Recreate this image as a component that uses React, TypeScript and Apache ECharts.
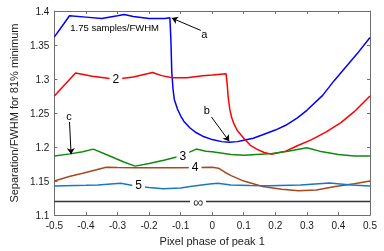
import React, { useEffect, useRef } from "react";
import * as echarts from "echarts";

const xTicks = [-0.5, 0.5];
const yRange = [1.1, 1.4];

const blueX = [-0.5, -0.475, -0.452, -0.4, -0.35, -0.3, -0.279, -0.25, -0.2, -0.15, -0.134, -0.131, -0.128, -0.124, -0.12, -0.11, -0.1, -0.09, -0.07, -0.05, -0.03, 0, 0.03, 0.054, 0.08, 0.1, 0.13, 0.16, 0.2, 0.233, 0.27, 0.3, 0.35, 0.387, 0.42, 0.459, 0.5];
const blueY = [1.362, 1.378, 1.393, 1.391, 1.389, 1.393, 1.395, 1.392, 1.389, 1.389, 1.39, 1.36, 1.31, 1.285, 1.27, 1.256, 1.246, 1.238, 1.228, 1.221, 1.216, 1.211, 1.208, 1.207, 1.208, 1.21, 1.213, 1.218, 1.225, 1.232, 1.243, 1.254, 1.276, 1.298, 1.316, 1.337, 1.361];

const redX = [-0.5, -0.433, -0.38, -0.33, -0.3, -0.25, -0.189, -0.16, -0.126, -0.08, -0.03, 0, 0.044, 0.047, 0.051, 0.056, 0.062, 0.069, 0.08, 0.1, 0.12, 0.141, 0.165, 0.187, 0.233, 0.27, 0.315, 0.36, 0.408, 0.45, 0.5];
const redY = [1.275, 1.309, 1.304, 1.301, 1.3, 1.303, 1.3096, 1.305, 1.302, 1.302, 1.305, 1.306, 1.3076, 1.295, 1.272, 1.255, 1.243, 1.234, 1.224, 1.213, 1.203, 1.197, 1.192, 1.1896, 1.194, 1.202, 1.211, 1.222, 1.236, 1.252, 1.275];

const greenX = [-0.5, -0.45, -0.41, -0.377, -0.33, -0.28, -0.244, -0.2, -0.15, -0.1, -0.07, -0.05, -0.02, 0, 0.06, 0.1, 0.18, 0.24, 0.3, 0.34, 0.4, 0.45, 0.5];
const greenY = [1.187, 1.19, 1.193, 1.197, 1.188, 1.178, 1.172, 1.176, 1.181, 1.187, 1.193, 1.197, 1.194, 1.193, 1.189, 1.188, 1.19, 1.194, 1.199, 1.194, 1.189, 1.187, 1.187];

const brownX = [-0.5, -0.45, -0.413, -0.336, -0.3, -0.244, -0.1, -0.05, 0, 0.02, 0.04, 0.06, 0.1, 0.16, 0.22, 0.274, 0.33, 0.39, 0.45, 0.5];
const brownY = [1.15, 1.157, 1.161, 1.1704, 1.1698, 1.1696, 1.1696, 1.17, 1.1704, 1.169, 1.163, 1.158, 1.15, 1.142, 1.138, 1.1357, 1.137, 1.142, 1.146, 1.15];

const tealX = [-0.5, -0.4, -0.362, -0.29, -0.233, -0.2, -0.156, -0.1, -0.07, -0.008, 0.018, 0.059, 0.12, 0.18, 0.28, 0.372, 0.44, 0.5];
const tealY = [1.1429, 1.1437, 1.1443, 1.1467, 1.142, 1.1404, 1.1386, 1.14, 1.142, 1.1457, 1.1467, 1.1443, 1.1435, 1.143, 1.1443, 1.1471, 1.1443, 1.1429];

const infX = [-0.5, 0.5];
const infY = [1.12, 1.12];

const curveLabels = ["1.75 samples/FWHM", "2", "3", "4", "5", "∞", "a", "b", "c"];
const curveLabelX = [-0.309, -0.305, -0.093, -0.054, -0.233, -0.045, -0.025, -0.017, -0.454];
const curveLabelY = [1.376, 1.3, 1.187, 1.17, 1.144, 1.1196, 1.366, 1.254, 1.2457];

const arrowFrom = [[-0.036, 1.3714], [-0.0025, 1.2443], [-0.452, 1.237]];
const arrowTo = [[-0.128, 1.3896], [0.054, 1.2086], [-0.447, 1.1896]];

const FONT = "'Liberation Sans', Arial, 'DejaVu Sans', sans-serif";

const zip = (xs: number[], ys: number[]) => xs.map((x, i) => [x, ys[i]]);

export default function App() {
  const ref = useRef<HTMLDivElement>(null);
  useEffect(() => {
    if (!ref.current) return;
    const chart = echarts.init(ref.current, null, { renderer: "svg" });
    const axisLineColor = "#6e6e6e";
    const baseX = {
      type: "value" as const,
      min: xTicks[0],
      max: xTicks[1],
      interval: 0.1,
      splitLine: { show: false },
      axisLine: { show: true, onZero: false, lineStyle: { color: axisLineColor, width: 1 } },
      axisTick: { show: true, inside: true, length: 3, lineStyle: { color: axisLineColor } },
    };
    const baseY = {
      type: "value" as const,
      min: yRange[0],
      max: yRange[1],
      interval: 0.05,
      splitLine: { show: false },
      axisLine: { show: true, onZero: false, lineStyle: { color: axisLineColor, width: 1 } },
      axisTick: { show: true, inside: true, length: 3, lineStyle: { color: axisLineColor } },
    };
    const line = (name: string, xs: number[], ys: number[], color: string) => ({
      type: "line" as const,
      name,
      data: zip(xs, ys),
      showSymbol: false,
      symbol: "none",
      lineStyle: { color, width: 1.5 },
      itemStyle: { color },
      z: 2,
    });
    chart.setOption({
      animation: false,
      grid: { left: 45, right: 14, top: 11, bottom: 30 },
      xAxis: [
        {
          ...baseX,
          position: "bottom",
          name: "Pixel phase of peak 1",
          nameLocation: "middle",
          nameGap: 16,
          nameTextStyle: { fontFamily: FONT, fontSize: 11, color: "#1a1a1a" },
          axisLabel: {
            fontFamily: FONT,
            fontSize: 10,
            color: "#1a1a1a",
            margin: 5,
            formatter: (v: number) => String(Math.round(v * 10) / 10),
          },
        },
        { ...baseX, position: "top", axisLabel: { show: false } },
      ],
      yAxis: [
        {
          ...baseY,
          position: "left",
          name: "Separation/FWHM for 81% minimum",
          nameLocation: "middle",
          nameGap: 31,
          nameTextStyle: { fontFamily: FONT, fontSize: 11, color: "#1a1a1a" },
          axisLabel: {
            fontFamily: FONT,
            fontSize: 10,
            color: "#1a1a1a",
            margin: 5,
            formatter: (v: number) => String(Math.round(v * 100) / 100),
          },
        },
        { ...baseY, position: "right", axisLabel: { show: false } },
      ],
      series: [
        line("1.75", blueX, blueY, "#0000ff"),
        line("2", redX, redY, "#ff0000"),
        line("3", greenX, greenY, "#108a10"),
        line("4", brownX, brownY, "#a8481c"),
        line("5", tealX, tealY, "#1a78c2"),
        line("inf", infX, infY, "#333333"),
        {
          type: "lines",
          coordinateSystem: "cartesian2d",
          symbol: ["none", "arrow"],
          symbolSize: 6,
          lineStyle: { color: "#000", width: 1, opacity: 1 },
          data: arrowFrom.map((f, i) => ({ coords: [f, arrowTo[i]] })),
          z: 5,
        },
      ],
    });
    const texts = curveLabels.map((t, i) => {
      const p = chart.convertToPixel({ xAxisIndex: 0, yAxisIndex: 0 }, [curveLabelX[i], curveLabelY[i]]) as number[];
      const big = i >= 1 && i <= 5;
      const isTitle = i === 0;
      const isInf = t === "∞";
      return {
        type: "text",
        x: p[0],
        y: p[1],
        z: 100,
        silent: true,
        style: {
          text: t,
          fontFamily: FONT,
          fontSize: isInf ? 14 : isTitle ? 9.5 : big ? 12 : 11,
          fill: isInf ? "#333" : "#000",
          align: "center",
          verticalAlign: "middle",
          backgroundColor: big ? "#ffffff" : undefined,
          padding: big ? [0, 3] : 0,
        },
      };
    });
    chart.setOption({ graphic: texts });
    return () => chart.dispose();
  }, []);
  return <div ref={ref} style={{ position: "fixed", left: 0, top: 0, width: 384, height: 251 }} />;
}
